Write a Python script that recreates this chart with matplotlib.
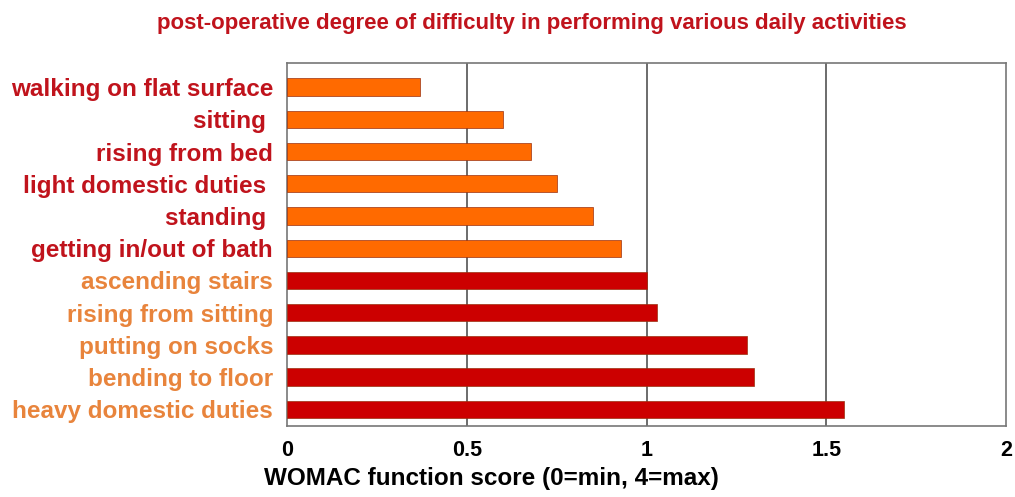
import matplotlib.pyplot as plt

plt.rcParams['font.family'] = ['Liberation Sans', 'DejaVu Sans']
plt.rcParams['font.weight'] = 'bold'

activities = ['walking on flat surface', 'sitting ', 'rising from bed', 'light domestic duties ',
              'standing ', 'getting in/out of bath', 'ascending stairs', 'rising from sitting',
              'putting on socks', 'bending to floor', 'heavy domestic duties']
scores = [0.37, 0.60, 0.68, 0.75, 0.85, 0.93, 1.00, 1.03, 1.28, 1.30, 1.55]
groups = ['light'] * 6 + ['heavy'] * 5

bar_colors = {'light': '#FF6A00', 'heavy': '#CC0000'}
label_colors = {'light': '#C0131C', 'heavy': '#E8843C'}

fig = plt.figure(figsize=(10.15, 4.97), dpi=100)
ax = fig.add_axes([287 / 1015, 1 - 426 / 497, (1006 - 287) / 1015, (426 - 63) / 497])

ypos = list(range(len(activities)))
ax.barh(ypos, scores, height=0.54, color=[bar_colors[g] for g in groups],
        edgecolor='#9a3010', linewidth=0.5, zorder=3)

ax.set_xlim(0, 2)
ax.set_ylim(len(activities) - 0.5 + 0.02, -0.75)
ax.set_xticks([0, 0.5, 1, 1.5, 2])
ax.set_xticklabels(['0', '0.5', '1', '1.5', '2'])
for x in [0.5, 1, 1.5]:
    ax.axvline(x, color='#444444', linewidth=1.1, zorder=2)

ax.set_yticks(ypos)
ax.set_yticklabels(activities)
for lbl, g in zip(ax.get_yticklabels(), groups):
    lbl.set_color(label_colors[g])
    lbl.set_fontsize(17.5)

ax.tick_params(axis='both', length=0)
ax.tick_params(axis='y', pad=10)
ax.tick_params(axis='x', pad=10, labelsize=15.5)
for s in ax.spines.values():
    s.set_color('#777777')
    s.set_linewidth(1.2)

fig.text(491 / 1015, 1 - 479 / 497, 'WOMAC function score (0=min, 4=max)',
         ha='center', va='center', fontsize=17.5, color='black')
fig.text(532 / 1015, 1 - 23 / 497, 'post-operative degree of difficulty in performing various daily activities',
         ha='center', va='center', fontsize=16, color='#C0131C')

fig.savefig('out.png', dpi=100)
